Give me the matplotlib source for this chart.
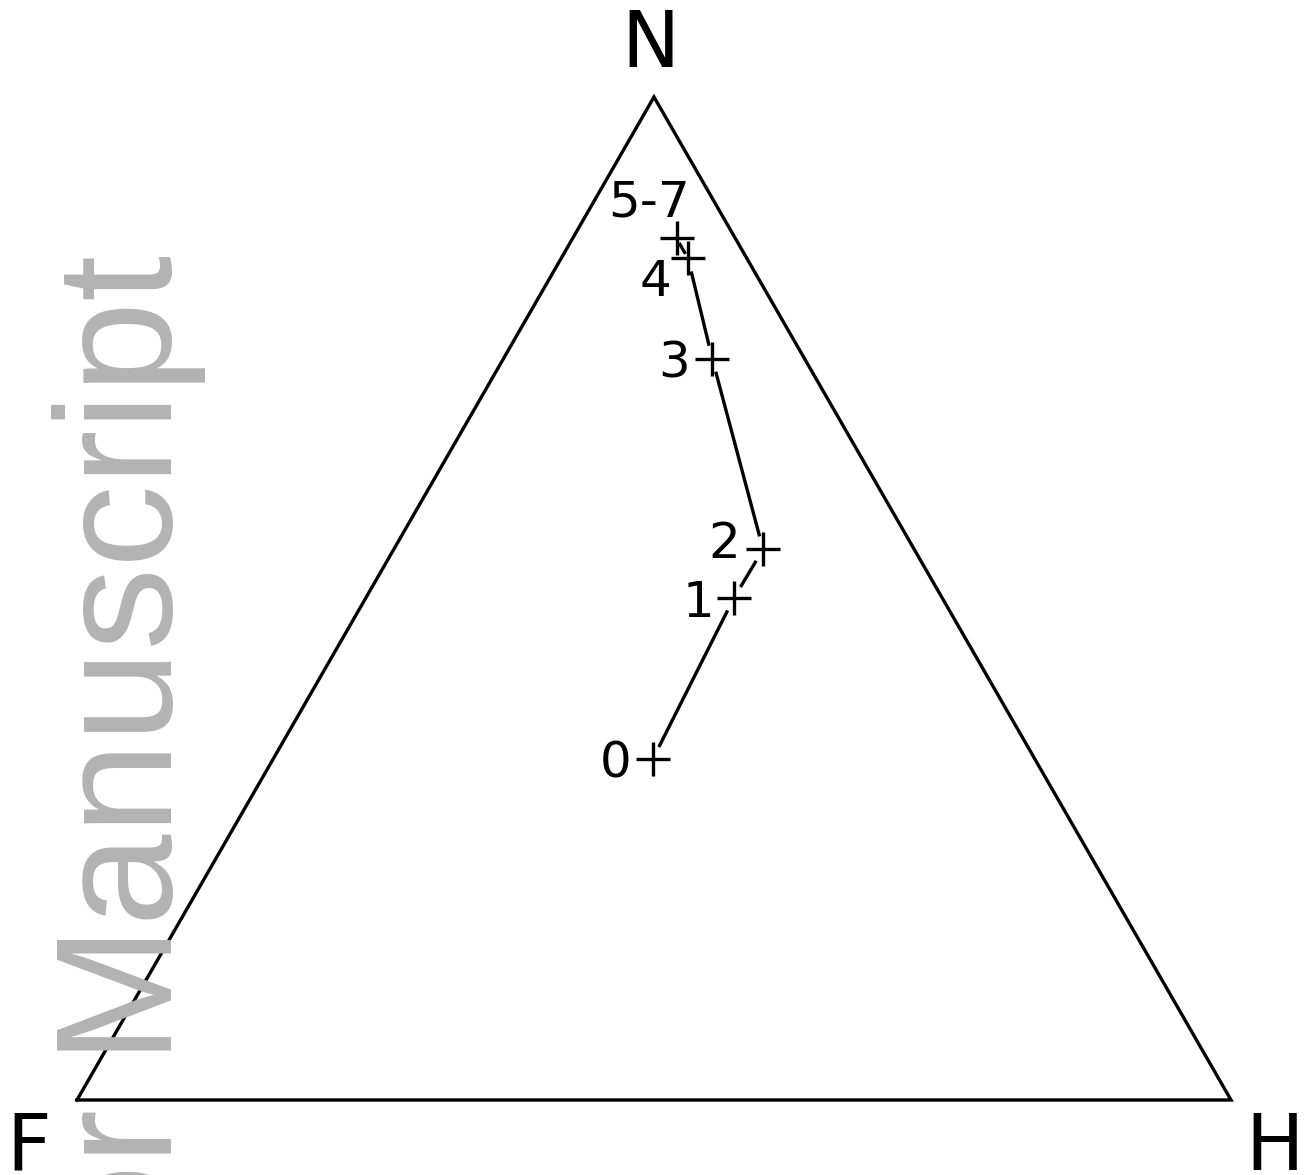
import matplotlib
matplotlib.use("Agg")
import matplotlib.pyplot as plt
import numpy as np

# ternary data (fractions of F, H, N)
labels = ["0", "1", "2", "3", "4", "5-7"]
frac_f = [0.331, 0.181, 0.131, 0.080, 0.051, 0.051]
frac_h = [0.329, 0.319, 0.320, 0.181, 0.110, 0.090]
frac_n = [0.340, 0.500, 0.549, 0.739, 0.839, 0.859]
vertex_names = ["F", "H", "N"]

# label offsets in pixels (dx, dy) relative to each point
label_off = [(-21, 0), (-19, 0), (-23, 10), (-22, 0), (-17, -19), (-27, 41)]


def to_xy(h, n):
    h = np.asarray(h)
    n = np.asarray(n)
    return h + n / 2.0, n * np.sqrt(3) / 2.0


W, H = 1316, 1175
fig = plt.figure(figsize=(W / 100, H / 100), dpi=100)
ax = fig.add_axes([0, 0, 1, 1])
ax.set_xlim(-77 / 1154, (W - 77) / 1154)
ax.set_ylim(-75 / 1158.2, 1100 / 1158.2)
ax.axis("off")

# watermark
fig.text(172 / W, (H - 255) / H, "Author Manuscript", color="#b3b3b3",
         fontsize=119, family="Liberation Sans", rotation=90,
         rotation_mode="anchor", ha="right", va="baseline", zorder=0)

# triangle
vx, vy = to_xy([0, 1, 0, 0], [0, 0, 1, 0])
ax.plot(vx, vy, color="black", lw=2.4, solid_joinstyle="miter", zorder=2)

vert_off = [(-48, -39), (44, -40), (-4, 60)]
for name, x, y, off in zip(vertex_names, vx[:3], vy[:3], vert_off):
    ax.annotate(name, (x, y), xytext=off, textcoords="offset pixels",
                ha="center", va="center_baseline", fontsize=56, zorder=3)

# path with gaps near the crosses
px, py = to_xy(frac_h, frac_n)
for i in range(len(px) - 1):
    x0, y0, x1, y1 = px[i], py[i], px[i + 1], py[i + 1]
    d = np.hypot(x1 - x0, y1 - y0)
    gap = min(0.013, 0.3 * d)
    ux, uy = (x1 - x0) / d, (y1 - y0) / d
    ax.plot([x0 + ux * gap, x1 - ux * gap], [y0 + uy * gap, y1 - uy * gap],
            color="black", lw=2.4, zorder=2)

ax.plot(px, py, ls="none", marker="+", ms=25, mew=2.4, color="black", zorder=3)

for lab, x, y, off in zip(labels, px, py, label_off):
    ha = "center" if lab == "5-7" else "right"
    ax.annotate(lab, (x, y), xytext=off, textcoords="offset pixels",
                ha=ha, va="center_baseline", fontsize=36, zorder=3)

fig.savefig("out.png", dpi=100)
